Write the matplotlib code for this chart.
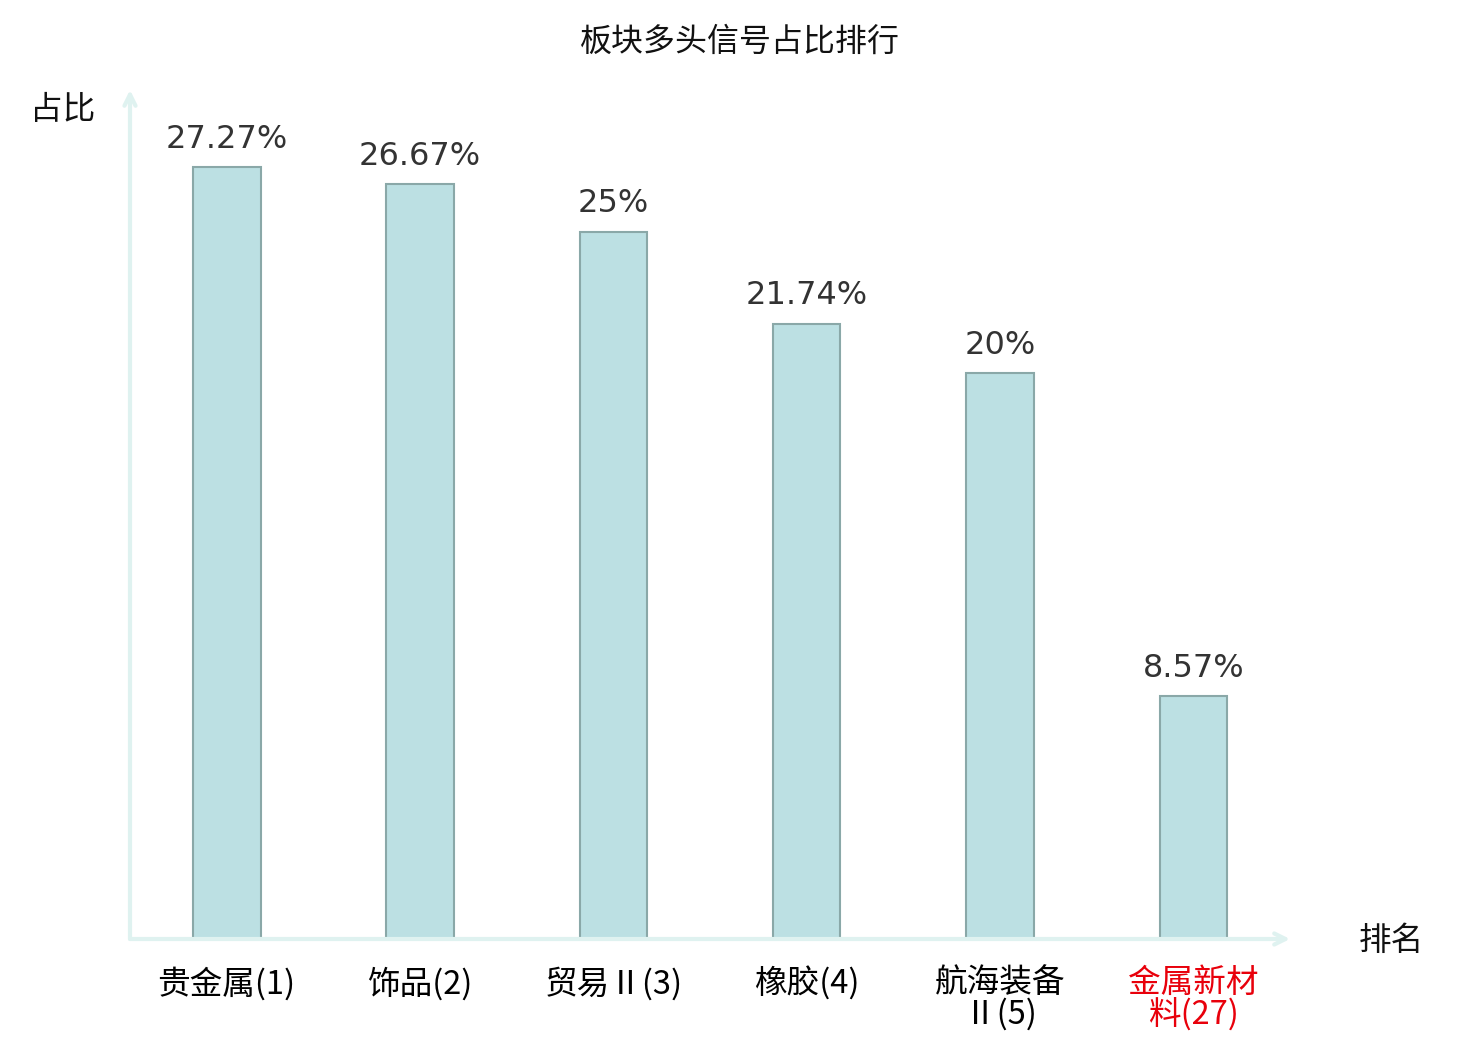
import matplotlib
matplotlib.use("Agg")
import matplotlib.pyplot as plt

categories = ["贵金属(1)", "饰品(2)", "贸易Ⅱ(3)", "橡胶(4)", "航海装备\nⅡ(5)", "金属新材\n料(27)"]
values = [27.27, 26.67, 25.0, 21.74, 20.0, 8.57]
value_labels = ["27.27%", "26.67%", "25%", "21.74%", "20%", "8.57%"]
label_colors = ["#000000", "#000000", "#000000", "#000000", "#000000", "#e8000b"]
title = "板块多头信号占比排行"
y_name = "占比"
x_name = "排名"

CJK = ["Noto Sans CJK SC", "DejaVu Sans"]
plt.rcParams["font.family"] = CJK

fig = plt.figure(figsize=(14.8, 10.4), dpi=100)
ax = fig.add_axes([130 / 1480, 1 - 939 / 1040, 1160 / 1480, 849 / 1040])

x = list(range(len(categories)))
ax.bar(x, values, width=0.35, color="#bce0e3", edgecolor="#8aa8a8", linewidth=1.5, zorder=2)

for xi, v, lab in zip(x, values, value_labels):
    ax.annotate(lab, (xi, v), xytext=(0, 9), textcoords="offset points",
                ha="center", va="bottom", fontsize=23, color="#333333",
                family=["DejaVu Sans"])

ax.set_xlim(-0.5, 5.5)
ax.set_ylim(0, 30)
for s in ax.spines.values():
    s.set_visible(False)
ax.set_yticks([])
ax.set_xticks(x)
ax.set_xticklabels(categories, fontsize=23.5, linespacing=0.95)
for t, c in zip(ax.get_xticklabels(), label_colors):
    t.set_color(c)
ax.tick_params(axis="x", length=0, pad=20)

axis_color = "#dff2f0"
ax.annotate("", xy=(0, 1.0), xytext=(0, 0), xycoords="axes fraction",
            arrowprops=dict(arrowstyle="->,head_length=0.8,head_width=0.4",
                            color=axis_color, lw=3, shrinkA=0, shrinkB=0),
            annotation_clip=False)
ax.annotate("", xy=(1.0, 0), xytext=(0, 0), xycoords="axes fraction",
            arrowprops=dict(arrowstyle="->,head_length=0.8,head_width=0.4",
                            color=axis_color, lw=3, shrinkA=0, shrinkB=0),
            annotation_clip=False)

fig.text(740 / 1480, 1 - 42 / 1040, title, ha="center", va="center", fontsize=23, color="#111111")
fig.text(63 / 1480, 1 - 110 / 1040, y_name, ha="center", va="center", fontsize=23.5, color="#111111")
fig.text(1391 / 1480, 1 - 941 / 1040, x_name, ha="center", va="center", fontsize=23.5, color="#111111")

fig.savefig("out.png", dpi=100, facecolor="white")
